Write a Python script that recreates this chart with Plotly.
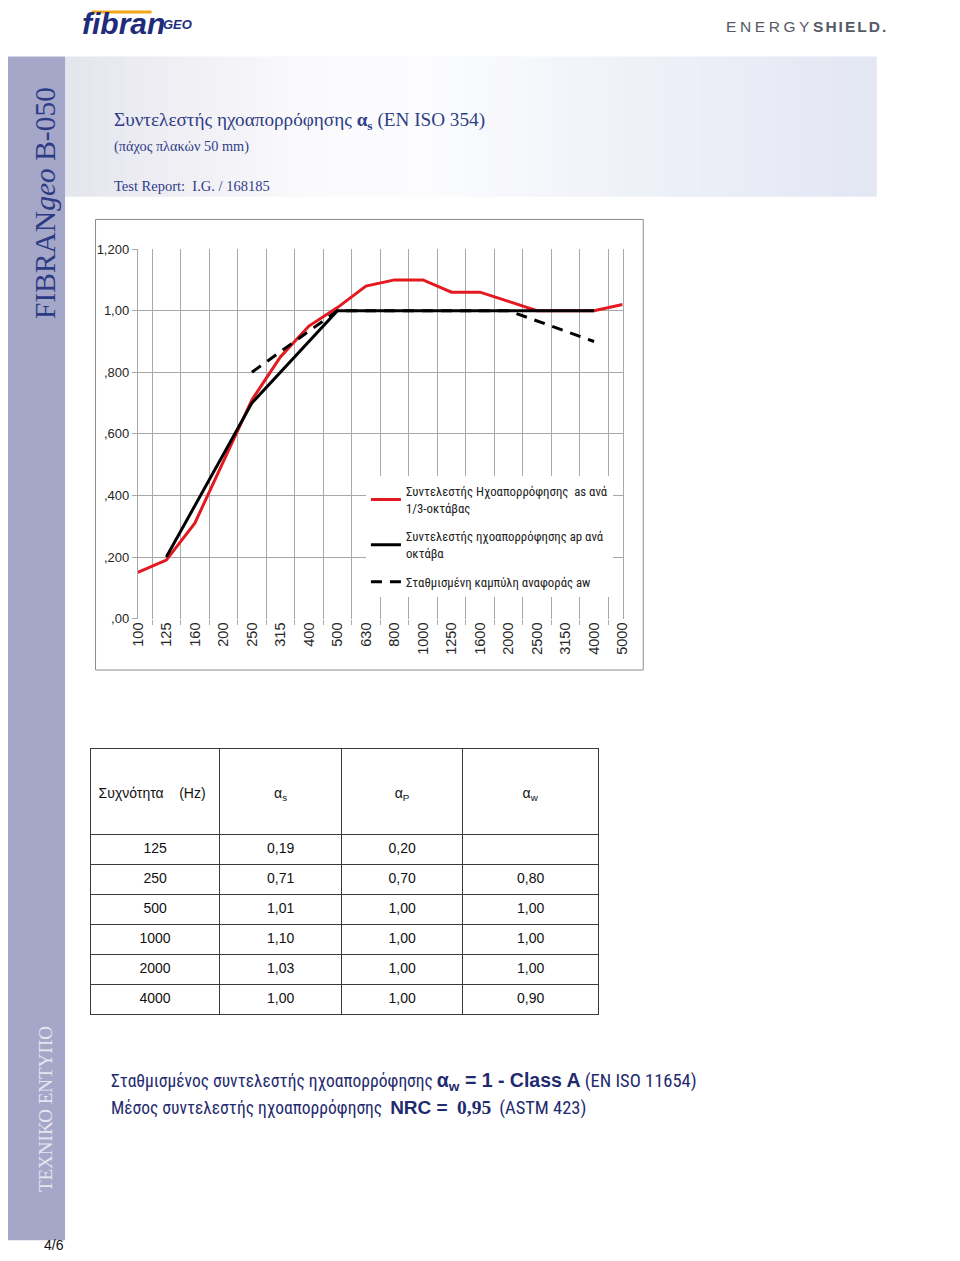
import plotly.graph_objects as go

W, H = 960, 1261

# ---------------- data ----------------
freqs = ["100", "125", "160", "200", "250", "315", "400", "500", "630", "800",
         "1000", "1250", "1600", "2000", "2500", "3150", "4000", "5000"]
alpha_s_third = [0.15, 0.19, 0.31, 0.51, 0.71, 0.85, 0.95, 1.01, 1.08, 1.10,
                 1.10, 1.06, 1.06, 1.03, 1.00, 1.00, 1.00, 1.02]
octave_freqs = ["125", "250", "500", "1000", "2000", "4000"]
alpha_p_oct = [0.20, 0.70, 1.00, 1.00, 1.00, 1.00]
ref_freqs = ["250", "500", "1000", "2000", "4000"]
alpha_w_ref = [0.80, 1.00, 1.00, 1.00, 0.90]

y_tickvals = [0, 0.2, 0.4, 0.6, 0.8, 1.0, 1.2]
y_ticktext = [",00", ",200", ",400", ",600", ",800", "1,00", "1,200"]

table_freqs = [125, 250, 500, 1000, 2000, 4000]
table_as = [0.19, 0.71, 1.01, 1.10, 1.03, 1.00]
table_ap = [0.20, 0.70, 1.00, 1.00, 1.00, 1.00]
table_aw = [None, 0.80, 1.00, 1.00, 1.00, 0.90]
table_header = ["Συχνότητα\u00a0\u00a0\u00a0\u00a0(Hz)", "α<sub>s</sub>", "α<sub>P</sub>", "α<sub>w</sub>"]

legend_names = [
    "Συντελεστής Ηχοαπορρόφησης  as ανά<br>1/3-οκτάβας",
    "Συντελεστής ηχοαπορρόφησης ap ανά<br>οκτάβα",
    "Σταθμισμένη καμπύλη αναφοράς aw",
]


def px(x):
    return x / W


def py(y):
    return 1 - y / H


def fmt(v):
    return "" if v is None else f"{v:.2f}".replace(".", ",")


NARROW = "Roboto Condensed, Liberation Sans Narrow, Arial Narrow, sans-serif"
SANS = "Liberation Sans, Arial, sans-serif"
SERIF = "Liberation Serif, Times New Roman, serif"
NAVY = "#2f3d88"
DNAVY = "#1f2b6e"

fig = go.Figure()

fig.add_trace(go.Scatter(x=freqs, y=alpha_s_third, mode="lines", name=legend_names[0],
                         legendgroup="a", line=dict(color="#e3191f", width=3)))
fig.add_trace(go.Scatter(x=octave_freqs, y=alpha_p_oct, mode="lines", name=legend_names[1],
                         legendgroup="b", line=dict(color="#000000", width=3)))
fig.add_trace(go.Scatter(x=ref_freqs, y=alpha_w_ref, mode="lines", name=legend_names[2],
                         legendgroup="c", line=dict(color="#000000", width=3, dash="11px,8px")))

# table
fig.add_trace(go.Table(
    domain=dict(x=[px(84), px(601)], y=[py(1022), py(750)]),
    columnwidth=[131, 124, 123, 138],
    header=dict(
        values=["\u00a0<br><span style='font-size:14px'>%s</span>" % h for h in table_header],
        height=86, align=["left", "center", "center", "center"],
        line=dict(color="#3a3a3a", width=1), fill=dict(color="white"),
        font=dict(family=SANS, size=19, color="#111111")),
    cells=dict(
        values=[[str(f) for f in table_freqs], [fmt(v) for v in table_as],
                [fmt(v) for v in table_ap], [fmt(v) for v in table_aw]],
        height=30, align="center",
        line=dict(color="#3a3a3a", width=1), fill=dict(color="white"),
        font=dict(family=SANS, size=14, color="#111111")),
))

shapes = []
# header gradient band
stops = [(58, (228, 228, 238)), (150, (237, 237, 243)), (300, (250, 250, 252)),
         (430, (252, 252, 254)), (620, (240, 242, 249)), (883, (227, 230, 243))]


def col_at(x):
    for (x0, c0), (x1, c1) in zip(stops[:-1], stops[1:]):
        if x0 <= x <= x1:
            t = (x - x0) / (x1 - x0)
            return "rgb(%d,%d,%d)" % tuple(round(a + (b - a) * t) for a, b in zip(c0, c1))
    return "rgb(%d,%d,%d)" % stops[-1][1]


step = 15
x = 58
while x < 883:
    x2 = min(x + step, 883)
    shapes.append(dict(type="rect", xref="paper", yref="paper", x0=px(x), x1=px(x2 + 0.5),
                       y0=py(192), y1=py(50), fillcolor=col_at((x + x2) / 2),
                       line=dict(width=0), layer="below"))
    x = x2
# sidebar
shapes.append(dict(type="rect", xref="paper", yref="paper", x0=0, x1=px(58), y0=py(1248), y1=py(50),
                   fillcolor="#a5a7c9", line=dict(width=0), layer="below"))
# chart border
shapes.append(dict(type="rect", xref="paper", yref="paper", x0=px(89), x1=px(646), y0=py(671), y1=py(215),
                   fillcolor="white", line=dict(color="#8c8c8c", width=1), layer="below"))
# orange bar of logo
shapes.append(dict(type="line", xref="paper", yref="paper", x0=px(85), x1=px(146), y0=py(5), y1=py(5),
                   line=dict(color="#f2a71b", width=3)))

ann = []


def A(x, y, text, size, color, family, xanchor="left", yanchor="middle", angle=0):
    ann.append(dict(x=px(x), y=py(y), xref="paper", yref="paper", text=text, showarrow=False,
                    xanchor=xanchor, yanchor=yanchor, textangle=angle,
                    font=dict(size=size, color=color, family=family)))


# logos
A(73, 17, "<b><i>fibran</i></b>", 30, "#202b7c", SANS)
A(156, 18, "<b><i>GEO</i></b>", 13, "#202b7c", SANS)
A(728, 20, "<span style='letter-spacing:3.6px'>ENERGY</span><b><span style='letter-spacing:2px'>SHIELD.</span></b>",
  15.5, "#555a66", SANS)
# sidebar texts
A(37, 198, "FIBRAN<i>geo</i> B-050", 29.5, "#2d3a84", SERIF, xanchor="center", angle=-90)
A(38, 1115, "ΤΕΧΝΙΚΟ ΕΝΤΥΠΟ", 19, "#e6e6f1", SERIF, xanchor="center", angle=-90)
A(47, 1253, "4/6", 14, "#111111", SANS, xanchor="center")
# titles
A(106, 115, "Συντελεστής ηχοαπορρόφησης <b>α<sub>s</sub></b> (EN ISO 354)", 19.2, NAVY, SERIF)
A(106, 141, "(πάχος πλακών 50 mm)", 14.3, NAVY, SERIF)
A(106, 181, "Test Report:  I.G. / 168185", 14.5, NAVY, SERIF)
# bottom notes
A(103, 1087, "Σταθμισμένος συντελεστής ηχοαπορρόφησης "
  "<b><span style='font-size:19.5px;font-family:Liberation Sans'>α<sub>w</sub> = 1 - Class A</span></b>"
  " <span style='font-size:18.5px'>(EN ISO 11654)</span>",
  17.5, DNAVY, NARROW)
A(103, 1114, "Μέσος συντελεστής ηχοαπορρόφησης  "
  "<b><span style='font-size:19px;font-family:Liberation Sans'>NRC = </span></b> "
  "<b><span style='font-size:19.5px;font-family:Liberation Serif'>0,95</span></b>"
  "  <span style='font-size:18.5px'>(ASTM 423)</span>",
  17.5, DNAVY, NARROW)

fig.update_layout(
    width=W, height=H, margin=dict(l=0, r=0, t=0, b=0),
    paper_bgcolor="white", plot_bgcolor="white",
    shapes=shapes, annotations=ann,
    showlegend=True,
    legend=dict(x=px(364), y=py(475), xanchor="left", yanchor="top",
                bgcolor="white", borderwidth=0,
                font=dict(family=NARROW, size=12.8, color="#222222"),
                tracegroupgap=9, itemwidth=30),
    xaxis=dict(domain=[px(132), px(625)], type="category", categoryorder="array",
               categoryarray=freqs, tickson="boundaries", showgrid=True, gridcolor="#a8a8a8",
               gridwidth=1, ticks="outside", ticklen=5, tickcolor="#a8a8a8", tickangle=-90,
               tickfont=dict(family=SANS, size=14.5, color="#262626"), showline=False,
               zeroline=False, fixedrange=True),
    yaxis=dict(domain=[py(619), py(245)], range=[0, 1.2], tickvals=y_tickvals, ticktext=y_ticktext,
               showgrid=True, gridcolor="#a8a8a8", gridwidth=1, ticks="outside", ticklen=5,
               tickcolor="#a8a8a8", zeroline=False, showline=True, linecolor="#a8a8a8",
               mirror=True, linewidth=1,
               tickfont=dict(family=SANS, size=13, color="#262626"), fixedrange=True),
)

fig.write_html(
    "out.html",
    config={"displayModeBar": False},
    post_script="document.documentElement.style.margin='0';document.body.style.margin='0';"
                "document.body.style.padding='0';document.documentElement.style.overflow='hidden';",
)
